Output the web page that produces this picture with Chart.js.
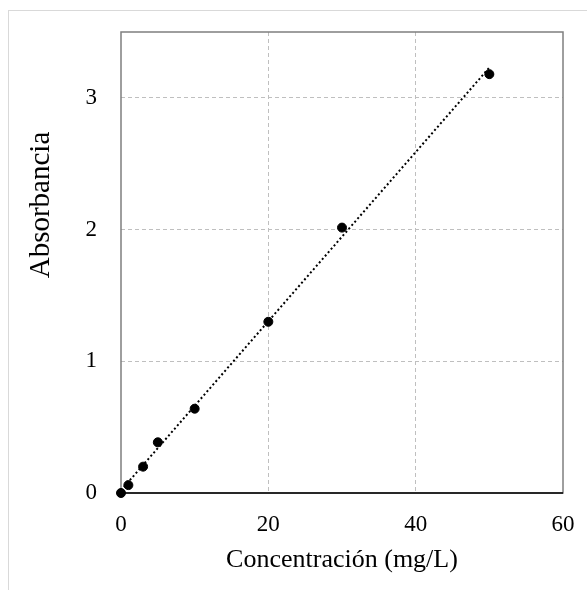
<!DOCTYPE html>
<html>
<head>
<meta charset="utf-8">
<script src="https://cdn.jsdelivr.net/npm/chart.js@4/dist/chart.umd.min.js"></script>
<style>
  body { margin: 0; background: #fff; }
  #frame { position: absolute; left: 8px; top: 10px; width: 640px; height: 640px; border: 1px solid #d9d9d9; }
  #myChart { position: absolute; left: 0; top: 0; }
</style>
</head>
<body>
<div id="frame"></div>
<canvas id="myChart" width="587" height="590"></canvas>
<script>
// calibration points
const concentration = [0, 1, 3, 5, 10, 20, 30, 50]
const absorbance = [0, 0.06, 0.2, 0.385, 0.64, 1.30, 2.015, 3.18]
// linear trend line ends
const trendX = [0, 50]
const trendY = [0.02, 3.23]
const xTicks = [0, 20, 40, 60]
const yTicks = [0, 1, 2, 3]
const yTitle = 'Absorbancia'

const serif = 'Liberation Serif, Times New Roman, serif'

// box round the plot area (bottom edge darker) and the y title, set a bit above centre
const plotFrame = {
    id: 'plotFrame',
    beforeDatasetsDraw(chart) {
        const a = chart.chartArea, ctx = chart.ctx
        ctx.save()
        ctx.lineWidth = 1.5
        ctx.strokeStyle = '#7f7f7f'
        ctx.strokeRect(a.left, a.top, a.right - a.left, a.bottom - a.top)
        ctx.strokeStyle = '#000'
        ctx.beginPath()
        ctx.moveTo(a.left, a.bottom)
        ctx.lineTo(a.right, a.bottom)
        ctx.stroke()
        ctx.restore()
    },
    afterDraw(chart) {
        const ctx = chart.ctx
        ctx.save()
        ctx.translate(41, 205)
        ctx.rotate(-Math.PI / 2)
        ctx.font = '29px ' + serif
        ctx.fillStyle = '#000'
        ctx.textAlign = 'center'
        ctx.textBaseline = 'middle'
        ctx.fillText(yTitle, 0, 0)
        ctx.restore()
    }
}

const ctx = document.getElementById('myChart').getContext('2d')
new Chart(ctx, {
    type: 'scatter',
    data: {
        datasets: [{
            label: 'Absorbancia',
            data: concentration.map((c, i) => ({x: c, y: absorbance[i]})),
            backgroundColor: '#000',
            borderColor: '#000',
            pointRadius: 4.5,
            pointHoverRadius: 4.5,
            clip: false
        }, {
            label: 'Lineal',
            data: trendX.map((c, i) => ({x: c, y: trendY[i]})),
            showLine: true,
            borderColor: '#000',
            borderWidth: 2,
            borderDash: [2, 2.5],
            pointRadius: 0
        }]
    },
    options: {
        responsive: false,
        animation: false,
        devicePixelRatio: 1,
        layout: {padding: {top: 32, right: 24, left: 0, bottom: 0}},
        plugins: {legend: {display: false}, tooltip: {enabled: false}},
        scales: {
            x: {
                type: 'linear',
                min: 0, max: 60,
                afterBuildTicks: s => { s.ticks = xTicks.map(v => ({value: v})) },
                afterFit: s => { s.height = 97; s.paddingLeft = 0; s.paddingRight = 0 },
                grid: {
                    drawTicks: false,
                    color: c => (c.tick && (c.tick.value === 0 || c.tick.value === 60)) ? 'rgba(0,0,0,0)' : '#bfbfbf',
                    lineWidth: 1
                },
                border: {display: false, dash: [4, 3]},
                ticks: {padding: 18, color: '#000', font: {family: serif, size: 23}},
                title: {
                    display: true,
                    text: 'Concentración (mg/L)',
                    color: '#000',
                    font: {family: serif, size: 26},
                    padding: {top: 0, bottom: 14}
                }
            },
            y: {
                type: 'linear',
                min: 0, max: 3.5,
                afterBuildTicks: s => { s.ticks = yTicks.map(v => ({value: v})) },
                afterFit: s => { s.width = 121; s.paddingTop = 0; s.paddingBottom = 0 },
                grid: {
                    drawTicks: false,
                    color: c => (c.tick && c.tick.value === 0) ? 'rgba(0,0,0,0)' : '#bfbfbf',
                    lineWidth: 1
                },
                border: {display: false, dash: [4, 3]},
                ticks: {padding: 24, color: '#000', font: {family: serif, size: 23}}
            }
        }
    },
    plugins: [plotFrame]
})
</script>
</body>
</html>
